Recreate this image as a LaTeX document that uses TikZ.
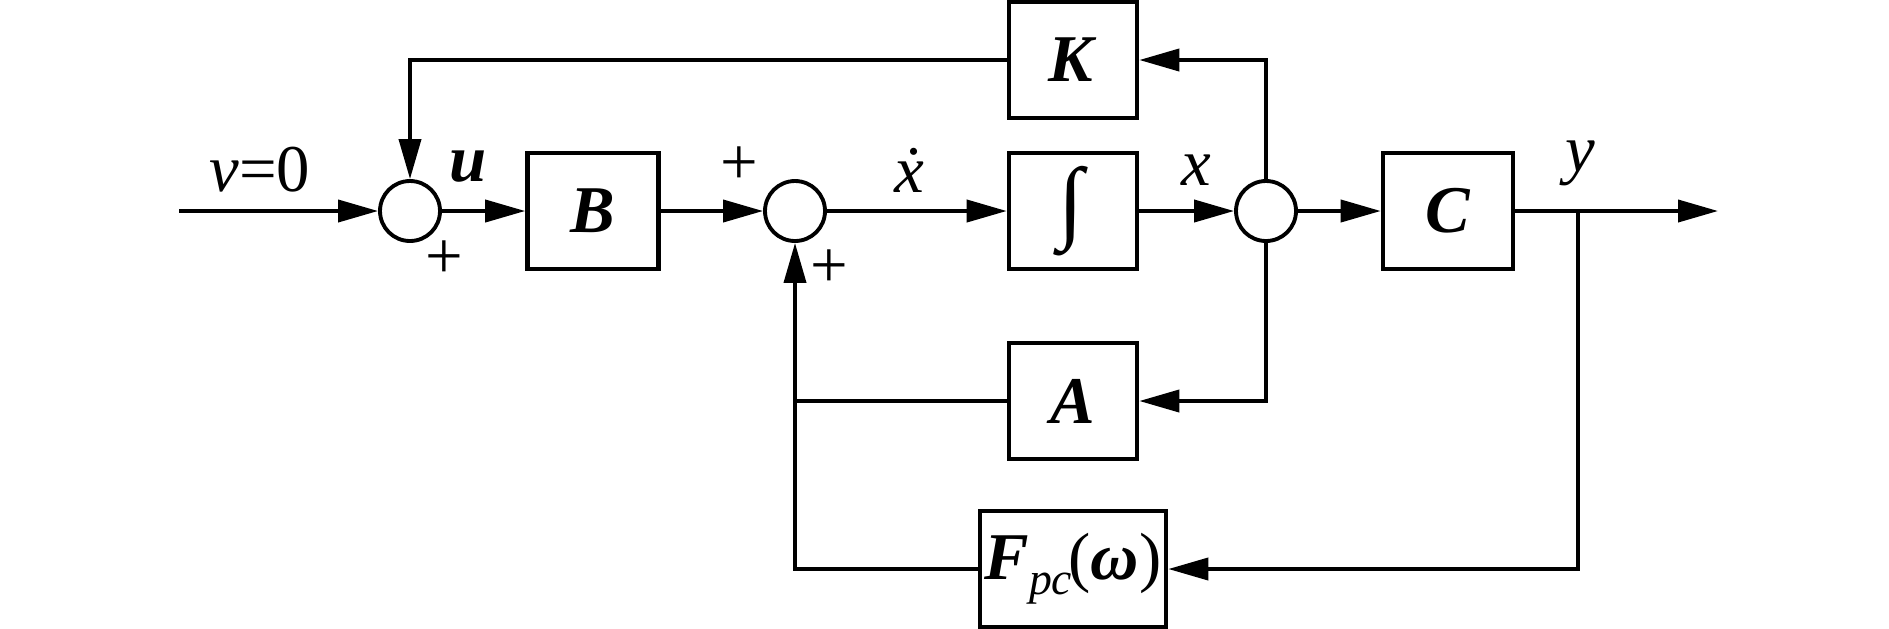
\documentclass[tikz,border=0pt]{standalone}
\usepackage{fontspec}
\setmainfont{Liberation Serif}
\usetikzlibrary{arrows.meta}

\begin{document}
\begin{tikzpicture}[>={Triangle[length=4mm,width=2.2mm]}, line width=1.1pt,
    font=\fontsize{19}{22}\selectfont,
    sumnode/.style={circle, draw, minimum size=0.6cm, inner sep=0pt},
    blk/.style={rectangle, draw, line width=1.3pt, minimum height=1.16cm, inner sep=2pt}]
                        \useasboundingbox (0,0) rectangle (18.89,6.28);

                        \foreach \k/\i/\j in {s1/4.10/4.17, s2/7.95/4.17, s3/12.66/4.17} {
                            \node (\k) at (\i, \j) [sumnode] {};
                        }

                        \foreach \k/\i/\j/\w/\t in {B/5.93/4.17/1.31/\textbf{\textit{B}}, I/10.73/4.17/1.28/{\fontsize{26}{28}\selectfont\textbf{∫}},
                                C/14.48/4.17/1.30/\textbf{\textit{C}}, K/10.73/5.68/1.28/\textbf{\textit{K}},
                                A/10.73/2.27/1.28/\textbf{\textit{A}}} {
                            \node (\k) at (\i, \j) [blk, minimum width=\w cm] {\t};
                        }
                        \node (F) at (10.73, 0.59) [blk, minimum width=1.86cm, inner xsep=0pt] {\textbf{\textit{F}}\raisebox{-0.5ex}{\fontsize{13}{15}\selectfont\textit{pc}}\kern-1pt(\textbf{\textit{ω}})};

                        \coordinate (in) at (1.79, 4.17);
                        \coordinate (br) at (15.78, 4.17);
                        \coordinate (out) at (17.18, 4.17);

                        \draw[->] (in) -- (s1);
                        \draw[->] (s1) -- (B);
                        \draw[->] (B) -- (s2);
                        \draw[->] (s2) -- (I);
                        \draw[->] (I) -- (s3);
                        \draw[->] (s3) -- (C);
                        \draw[->] (C) -- (out);
                        \draw[->] (s3.north) |- (K.east);
                        \draw[->] (K.west) -| (s1.north);
                        \draw[->] (s3.south) |- (A.east);
                        \draw (A.west) -- (A.west -| s2);
                        \draw[->] (br) |- (F.east);
                        \draw[->] (F.west) -| (s2.south);

                        \node (v) at (2.60, 4.58) {\textit{v}=0};
                        \node (u) at (4.68, 4.61) {\textbf{\textit{u}}};
                        \node (p1) at (4.44, 3.68) {+};
                        \node (p2) at (7.39, 4.62) {+};
                        \node (p3) at (8.29, 3.59) {+};
                        \node (xd) at (9.09, 4.58) {\textit{ẋ}};
                        \node (x) at (11.96, 4.58) {\textit{x}};
                        \node (y) at (15.80, 4.65) {\textit{y}};
                    \end{tikzpicture}
\end{document}
